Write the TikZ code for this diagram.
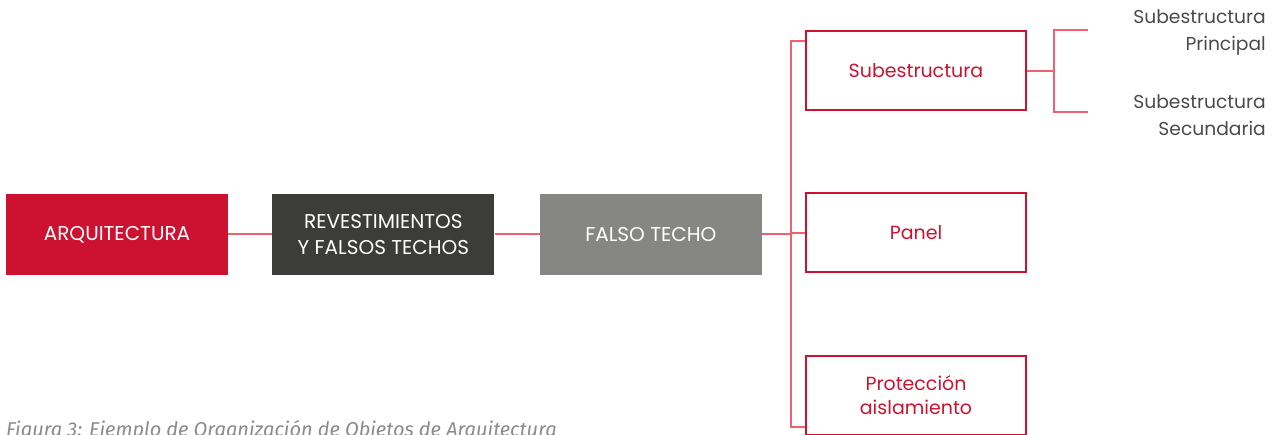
\documentclass[tikz,border=0pt]{standalone}
\usepackage{fontspec}
\setmainfont{Poppins}
\newfontfamily\capfont{Fira Sans}
\usetikzlibrary{positioning}
\definecolor{arqred}{HTML}{CC1230}
\definecolor{revgray}{HTML}{3C3C3A}
\definecolor{falgray}{HTML}{868684}
\definecolor{linkred}{HTML}{F0606E}
\definecolor{txtgray}{HTML}{4A4A4A}
\definecolor{capgray}{HTML}{8A8A8A}

\begin{document}
\begin{tikzpicture}[x=1pt,y=-1pt,
    box/.style={minimum width=222pt,minimum height=81pt,inner sep=0pt,text=white,align=center,font=\fontsize{20}{26.5}\selectfont},
    outbox/.style={box,draw=arqred,line width=2pt,text=arqred,minimum width=220pt,minimum height=79pt,font=\fontsize{19}{24}\selectfont},
    link/.style={draw=linkred,line width=2pt},
    leaf/.style={anchor=east,align=right,inner sep=0pt,text=txtgray,font=\fontsize{18.7}{27}\selectfont}]
    \useasboundingbox (0,0) rectangle (1280,435);
    % main chain
    \node[box,fill=arqred] (arq) at (117,234.5) {ARQUITECTURA};
    \node[box,fill=revgray,right=44pt of arq] (rev) {REVESTIMIENTOS\\Y FALSOS TECHOS};
    \node[box,fill=falgray,right=45pt of rev] (fal) {FALSO TECHO};
    % children
    \node[outbox] (sub) at (916,71) {Subestructura};
    \node[outbox] (pan) at (916,233) {Panel};
    \node[outbox] (prot) at (916,395.5) {Protecci\'on\\aislamiento};
    \node[leaf] (subA) at (1266,32.5) {Subestructura\\Principal};
    \node[leaf] (subB) at (1266,115.5) {Subestructura\\Secundaria};
    \node[anchor=base west,inner sep=0pt,text=capgray,font=\capfont\itshape\fontsize{20}{22}\selectfont] (cap) at (6,437) {Figura 3: Ejemplo de Organizaci\'on de Objetos de Arquitectura};
    % connectors
    \coordinate (busTop) at (791,41);
    \coordinate (busBot) at (791,427);
    \coordinate (fork) at (1054,71);
    \coordinate (endA) at (1088,30);
    \coordinate (endB) at (1088,112);
    \draw[link] (arq) -- (rev);
    \draw[link] (rev) -- (fal);
    \draw[link] (fal) -- (fal -| busTop);
    \draw[link] (sub.west |- busTop) -- (busTop) -- (busBot) -- (prot.west |- busBot);
    \draw[link] (pan.west) -- (pan.west -| busTop);
    \draw[link] (sub) -- (fork);
    \draw[link] (endA) -- (endA -| fork) -- (endB -| fork) -- (endB);
\end{tikzpicture}
\end{document}
